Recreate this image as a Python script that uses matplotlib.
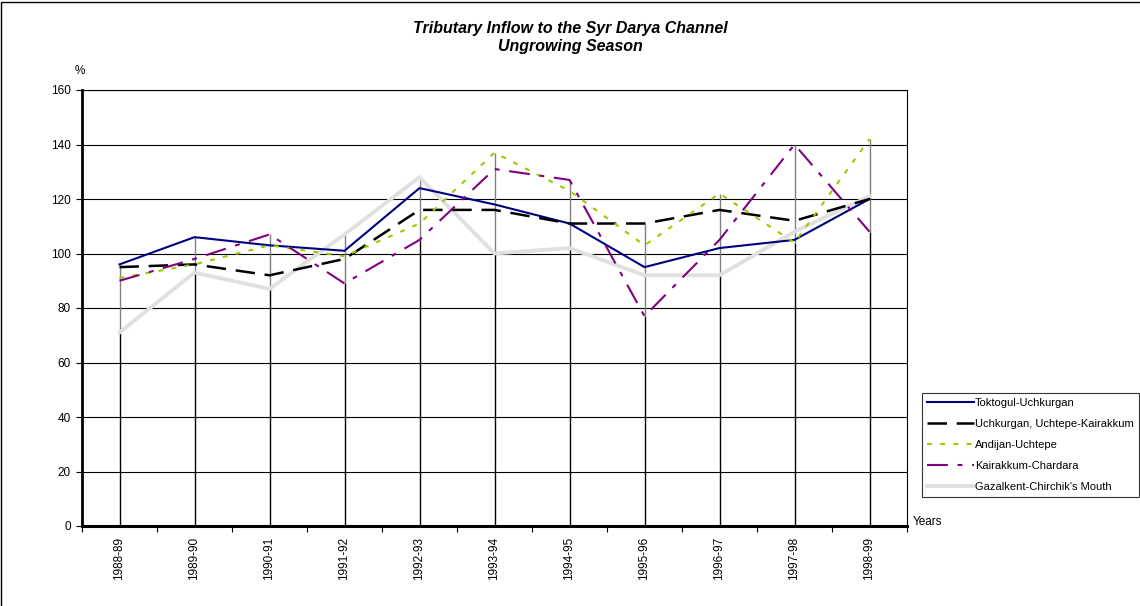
import numpy as np
import matplotlib
matplotlib.use("Agg")
import matplotlib.pyplot as plt
from matplotlib.patches import Rectangle

plt.rcParams['font.family'] = ['Liberation Sans', 'DejaVu Sans']
plt.rcParams['lines.scale_dashes'] = False

################################################################################

years = ['1988-89', '1989-90', '1990-91', '1991-92', '1992-93', '1993-94',
         '1994-95', '1995-96', '1996-97', '1997-98', '1998-99']

toktogul = [96, 106, 103, 101, 124, 118, 111, 95, 102, 105, 120]
uchkurgan = [95, 96, 92, 98, 116, 116, 111, 111, 116, 112, 120]
andijan = [91, 96, 103, 99, 111, 137, 123, 103, 122, 104, 142]
kairakkum = [90, 98, 107, 89, 105, 131, 127, 77, 105, 140, 108]
gazalkent = [71, 93, 87, 107, 128, 100, 102, 92, 92, 108, 121]

names = ['Toktogul-Uchkurgan', 'Uchkurgan, Uchtepe-Kairakkum', 'Andijan-Uchtepe',
         'Kairakkum-Chardara', "Gazalkent-Chirchik's Mouth"]

################################################################################

fig = plt.figure(figsize=(11.4, 6.06), dpi=100)
ax = fig.add_axes([82 / 1140, 80 / 606, 825 / 1140, 436 / 606])

x = np.arange(len(years))
allv = np.array([toktogul, uchkurgan, andijan, kairakkum, gazalkent])
lo = allv.min(axis=0)
hi = allv.max(axis=0)

# drop lines / high-low lines
ax.vlines(x, 0, lo, color='black', lw=1.0, zorder=2)
ax.vlines(x, lo, hi, color='#808080', lw=1.0, zorder=2)

ax.plot(x, gazalkent, color='#e0e0e0', lw=2.8, zorder=3, label=names[4])
ax.plot(x, toktogul, color='#000080', lw=1.5, zorder=4, label=names[0])
ax.plot(x, uchkurgan, color='black', lw=1.8, dashes=(14, 7), zorder=4, label=names[1])
ax.plot(x, andijan, color='#99cc00', lw=1.5, dashes=(3.5, 6), zorder=4, label=names[2])
ax.plot(x, kairakkum, color='#800080', lw=1.5, dashes=(15, 7, 3.5, 7), zorder=4, label=names[3])

ax.set_xlim(-0.5, len(years) - 0.5)
ax.set_ylim(0, 160)
ax.set_yticks(range(0, 161, 20))
ax.yaxis.grid(True, color='black', lw=0.8)
ax.set_axisbelow(True)

ax.set_xticks(x)
ax.set_xticklabels(years, rotation=90, fontsize=8.5)
ax.set_xticks(np.arange(-0.5, len(years)), minor=True)
ax.tick_params(axis='x', which='major', length=0, pad=8)
ax.tick_params(axis='x', which='minor', length=4, width=0.8, direction='out')
ax.tick_params(axis='y', length=4, width=0.8, direction='out', labelsize=8.5, pad=4)

ax.spines['left'].set_linewidth(2)
ax.spines['bottom'].set_linewidth(2.2)
ax.spines['top'].set_linewidth(0.8)
ax.spines['right'].set_linewidth(0.8)
ax.spines['bottom'].set_zorder(5)
ax.spines['left'].set_zorder(5)

fig.text(0.5, 1 - 28 / 606, 'Tributary Inflow to the Syr Darya Channel',
         ha='center', va='center', fontsize=11.5, fontweight='bold', style='italic')
fig.text(0.5, 1 - 47 / 606, 'Ungrowing Season',
         ha='center', va='center', fontsize=11.5, fontweight='bold', style='italic')
fig.text(80 / 1140, 1 - 71 / 606, '%', ha='center', va='center', fontsize=8.5)
fig.text(913 / 1140, 1 - 522 / 606, 'Years', ha='left', va='center', fontsize=8.5)

handles, labels = ax.get_legend_handles_labels()
order = [1, 2, 3, 4, 0]
leg = fig.legend([handles[i] for i in order], [labels[i] for i in order],
                 loc='lower left', bbox_to_anchor=(922 / 1140, 109 / 606),
                 fontsize=8, frameon=True, fancybox=False, edgecolor='black',
                 handlelength=4.2, handletextpad=0.1, labelspacing=1.0,
                 borderpad=0.45, borderaxespad=0)
leg.get_frame().set_linewidth(0.8)

fig.patches.append(Rectangle((1 / 1140, -0.01), 1.2, 1 - 2 / 606 + 0.01,
                             transform=fig.transFigure, fill=False,
                             edgecolor='black', lw=1.0))

fig.savefig('out.png', dpi=100)
